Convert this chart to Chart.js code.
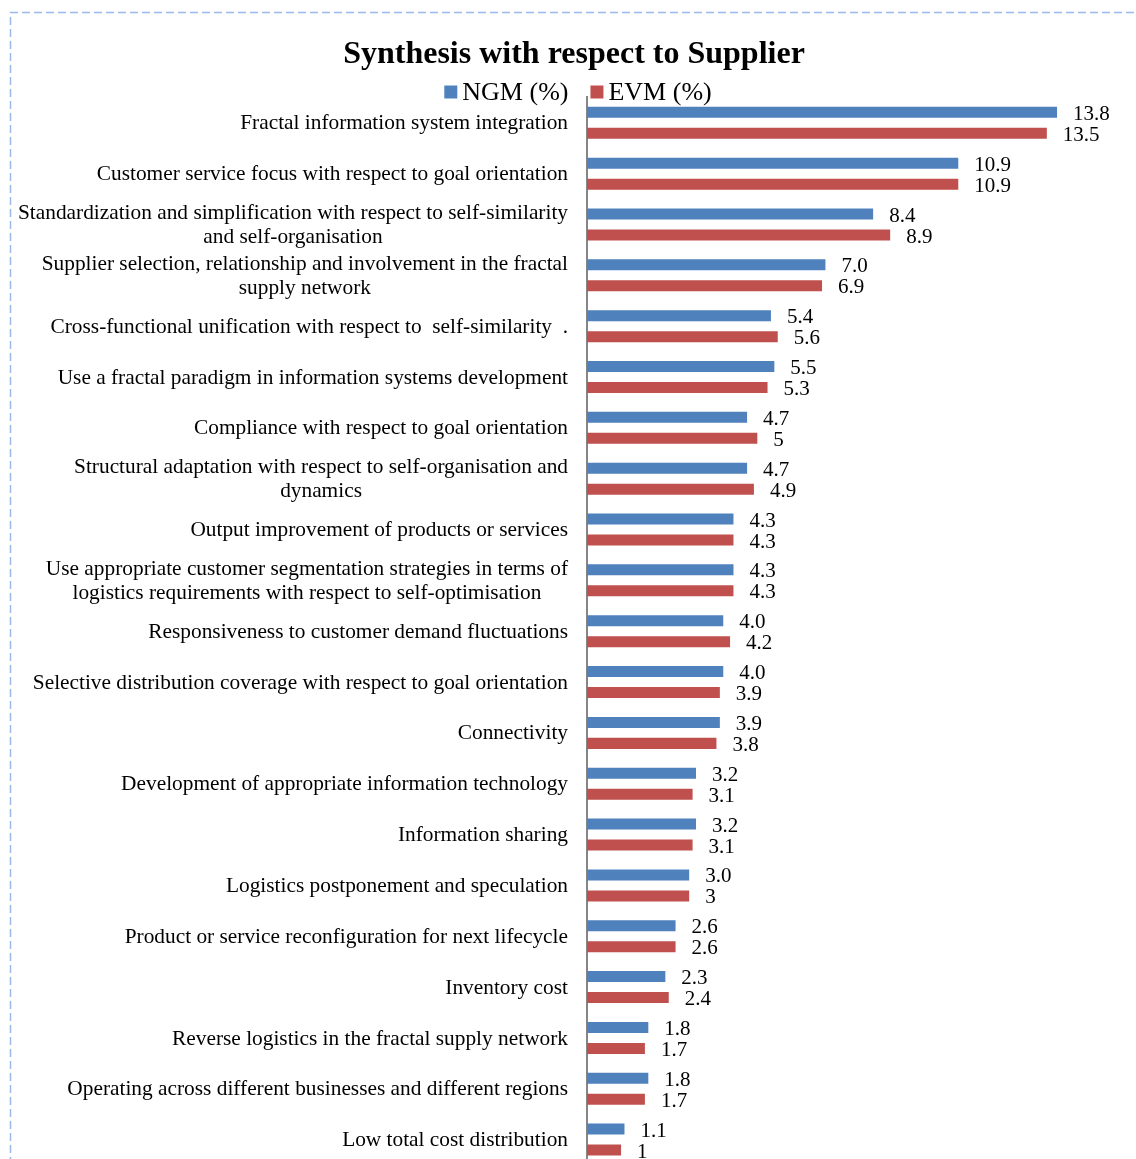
<!DOCTYPE html>
<html>
<head>
<meta charset="utf-8">
<title>Synthesis with respect to Supplier</title>
<script src="https://cdn.jsdelivr.net/npm/chart.js@4"></script>
<style>
    html, body { margin: 0; padding: 0; background: #fff; overflow: hidden; }
    #wrap { width: 1136px; height: 1165px; }
</style>
</head>
<body>
<div id="wrap"><canvas id="supplierChart" width="1136" height="1165"></canvas></div>
<script>
// Criteria (multi-line where the label wraps)
const categories = [
    ['Fractal information system integration'],
    ['Customer service focus with respect to goal orientation'],
    ['Standardization and simplification with respect to self-similarity', 'and self-organisation'],
    ['Supplier selection, relationship and involvement in the fractal', 'supply network'],
    ['Cross-functional unification with respect to  self-similarity  .'],
    ['Use a fractal paradigm in information systems development'],
    ['Compliance with respect to goal orientation'],
    ['Structural adaptation with respect to self-organisation and', 'dynamics'],
    ['Output improvement of products or services'],
    ['Use appropriate customer segmentation strategies in terms of', 'logistics requirements with respect to self-optimisation'],
    ['Responsiveness to customer demand fluctuations'],
    ['Selective distribution coverage with respect to goal orientation'],
    ['Connectivity'],
    ['Development of appropriate information technology'],
    ['Information sharing'],
    ['Logistics postponement and speculation'],
    ['Product or service reconfiguration for next lifecycle'],
    ['Inventory cost'],
    ['Reverse logistics in the fractal supply network'],
    ['Operating across different businesses and different regions'],
    ['Low total cost distribution']
];

const ngmValues = [13.8, 10.9, 8.4, 7.0, 5.4, 5.5, 4.7, 4.7, 4.3, 4.3, 4.0, 4.0, 3.9, 3.2, 3.2, 3.0, 2.6, 2.3, 1.8, 1.8, 1.1];
const evmValues = [13.5, 10.9, 8.9, 6.9, 5.6, 5.3, 5, 4.9, 4.3, 4.3, 4.2, 3.9, 3.8, 3.1, 3.1, 3, 2.6, 2.4, 1.7, 1.7, 1];

// NGM is shown with one decimal, EVM as entered
const ngmText = ngmValues.map(v => v.toFixed(1));
const evmText = evmValues.map(v => String(v));

const SERIF = "'Liberation Serif', 'Times New Roman', serif";
const BLUE = '#4F81BD';
const RED = '#C0504D';

// Dashed frame along the top and left edges
const framePlugin = {
    id: 'frame',
    beforeDraw(chart) {
        const ctx = chart.ctx;
        ctx.save();
        ctx.strokeStyle = '#9DB8EA';
        ctx.lineWidth = 1.5;
        ctx.setLineDash([8, 4]);
        ctx.beginPath();
        ctx.moveTo(10.5, chart.height);
        ctx.lineTo(10.5, 12.5);
        ctx.lineTo(chart.width, 12.5);
        ctx.stroke();
        ctx.restore();
    }
};

// Category labels: block right-aligned against the axis, lines centred within the block
const categoryLabelPlugin = {
    id: 'categoryLabels',
    afterDraw(chart) {
        const ctx = chart.ctx;
        const yScale = chart.scales.y;
        const rightEdge = chart.chartArea.left - 19;
        const lineHeight = 24;
        ctx.save();
        ctx.font = '21.35px ' + SERIF;
        ctx.fillStyle = '#000';
        ctx.textAlign = 'center';
        ctx.textBaseline = 'middle';
        chart.data.labels.forEach((lines, i) => {
            const y = yScale.getPixelForTick(i);
            const widest = Math.max(...lines.map(l => ctx.measureText(l).width));
            const cx = rightEdge - widest / 2;
            const startY = y - (lines.length - 1) * lineHeight / 2;
            lines.forEach((line, j) => ctx.fillText(line, cx, startY + j * lineHeight + 1));
        });
        ctx.restore();
    }
};

// Value labels at the end of each bar
const valueLabelPlugin = {
    id: 'valueLabels',
    afterDatasetsDraw(chart) {
        const ctx = chart.ctx;
        const texts = [ngmText, evmText];
        ctx.save();
        ctx.font = '21px ' + SERIF;
        ctx.fillStyle = '#000';
        ctx.textAlign = 'left';
        ctx.textBaseline = 'middle';
        chart.data.datasets.forEach((ds, d) => {
            chart.getDatasetMeta(d).data.forEach((bar, i) => {
                ctx.fillText(texts[d][i], bar.x + 16, bar.y + 2);
            });
        });
        ctx.restore();
    }
};

// Legend row under the title
const legendPlugin = {
    id: 'legendRow',
    afterDraw(chart) {
        const ctx = chart.ctx;
        const centerX = 578;
        const cy = 92;
        const box = 13;
        const boxGap = 5;
        const itemGap = 22;
        ctx.save();
        ctx.font = '26px ' + SERIF;
        ctx.textBaseline = 'middle';
        ctx.textAlign = 'left';
        const items = chart.data.datasets.map(ds => ({
            text: ds.label,
            color: ds.backgroundColor,
            width: box + boxGap + ctx.measureText(ds.label).width
        }));
        const total = items.reduce((s, it) => s + it.width, 0) + itemGap * (items.length - 1);
        let x = centerX - total / 2;
        items.forEach(it => {
            ctx.fillStyle = it.color;
            ctx.fillRect(x, cy - box / 2, box, box);
            ctx.fillStyle = '#000';
            ctx.fillText(it.text, x + box + boxGap, cy + 1);
            x += it.width + itemGap;
        });
        ctx.restore();
    }
};

new Chart(document.getElementById('supplierChart'), {
    type: 'bar',
    data: {
        labels: categories,
        datasets: [{
            label: 'NGM (%)',
            data: ngmValues,
            backgroundColor: BLUE,
            categoryPercentage: 0.826,
            barPercentage: 0.524
        }, {
            label: 'EVM (%)',
            data: evmValues,
            backgroundColor: RED,
            categoryPercentage: 0.826,
            barPercentage: 0.524
        }]
    },
    options: {
        indexAxis: 'y',
        responsive: false,
        animation: false,
        devicePixelRatio: 1,
        layout: {
            padding: { left: 16, top: 12, right: 4, bottom: 0 }
        },
        scales: {
            x: {
                display: false,
                min: 0,
                max: 16
            },
            y: {
                grid: { display: false, drawTicks: false },
                border: { display: true, color: '#868686', width: 2 },
                ticks: { display: false },
                afterFit(scale) {
                    scale.width = 571;
                }
            }
        },
        plugins: {
            legend: { display: false },
            tooltip: { enabled: false },
            title: {
                display: true,
                text: 'Synthesis with respect to Supplier',
                color: '#000',
                font: { family: SERIF, size: 32, weight: 'bold' },
                padding: { top: 24, bottom: 23 }
            }
        }
    },
    plugins: [framePlugin, categoryLabelPlugin, valueLabelPlugin, legendPlugin]
});
</script>
</body>
</html>
